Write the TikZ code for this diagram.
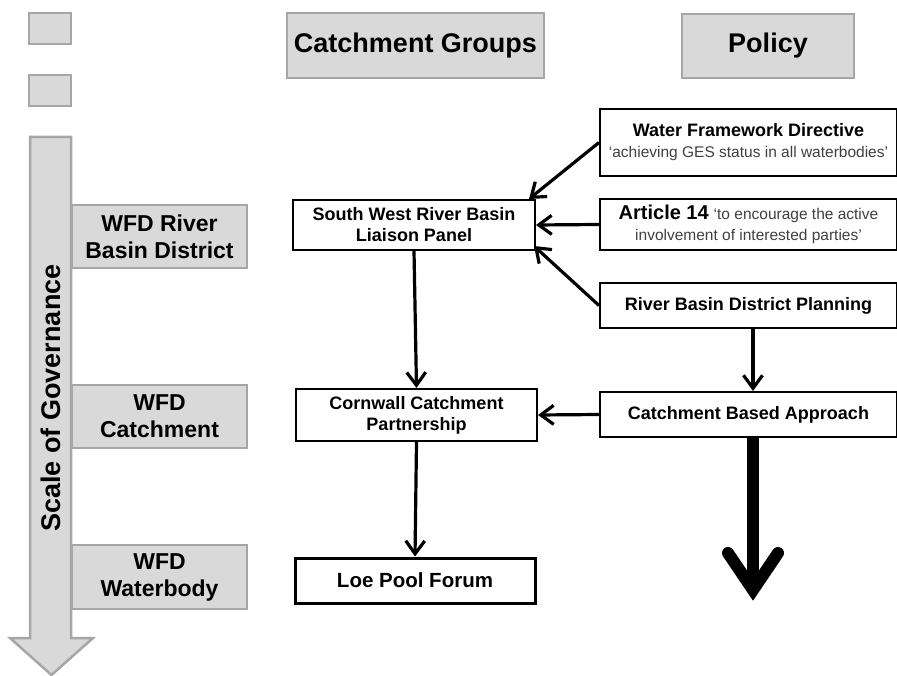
\documentclass[tikz,border=0pt]{standalone}
\usepackage{fontspec}
\setmainfont{Liberation Sans}
\usepackage{tikz}
\usetikzlibrary{arrows.meta, positioning}
\definecolor{panelgrey}{HTML}{D9D9D9}
\definecolor{edgegrey}{HTML}{A6A6A6}
\definecolor{quotegrey}{HTML}{404040}
\newcommand{\quotefont}{\fontsize{15.5}{18}\selectfont\mdseries\color{quotegrey}}

\begin{document}
\begin{tikzpicture}[x=1pt, y=-1pt,
    >={Straight Barb[length=13pt,width=19pt]},
    tierbox/.style={draw=edgegrey,line width=2.5pt,fill=panelgrey,inner sep=0pt,
        align=center,font=\bfseries\fontsize{23}{27}\selectfont},
    headbox/.style={tierbox,font=\bfseries\fontsize{27}{32}\selectfont},
    groupbox/.style={draw,line width=2pt,fill=white,inner sep=0pt,
        align=center,font=\bfseries\fontsize{18}{21}\selectfont},
    policybox/.style={groupbox,minimum width=297pt},
    link/.style={->,line width=3.2pt},
    bigflow/.style={line width=12pt}]

    \useasboundingbox (0,0) rectangle (897,676);

    \node[tierbox,minimum width=42pt,minimum height=31pt] (blank1) at (50,28.5) {};
    \node[tierbox,minimum width=42pt,minimum height=31pt] (blank2) at (50,90.5) {};
    \node[headbox,minimum width=257pt,minimum height=65pt] (groups) at (415.5,45.5) {Catchment Groups};
    \node[headbox,minimum width=172pt,minimum height=64pt] (policy) at (768,46) {Policy};

    % scale arrow
    \draw[draw=edgegrey,line width=2.5pt,fill=panelgrey]
        (30,137) -- (71,137) -- (71,638) -- (93,638) -- (51.5,675) -- (10,638) -- (30,638) -- cycle;
    \node[rotate=90,font=\bfseries\fontsize{27}{32}\selectfont] (scale) at (51,398) {Scale of Governance};

    \node[tierbox,minimum width=175pt,minimum height=63pt] (rbd)       at (159.5,236.5) {WFD River\\Basin District};
    \node[tierbox,minimum width=175pt,minimum height=63pt] (catch)     at (159.5,416.5) {WFD\\Catchment};
    \node[tierbox,minimum width=175pt,minimum height=64pt] (waterbody) at (159.5,577)   {WFD\\Waterbody};

    \node[groupbox,minimum width=242pt,minimum height=50pt] (swrb)     at (414,225)   {South West River Basin\\Liaison Panel};
    \node[groupbox,minimum width=241pt,minimum height=52pt] (cornwall) at (416.5,415) {Cornwall Catchment\\Partnership};
    \node[groupbox,line width=3pt,minimum width=240pt,minimum height=45pt,
        font=\bfseries\fontsize{20.5}{24}\selectfont] (loe) at (415,580.5) {Loe Pool Forum};

    \node[policybox,minimum height=67pt] (wfd)   at (748.5,142.5)
        {Water Framework Directive\\ \quotefont ‘achieving GES status in all waterbodies’};
    \node[policybox,minimum height=51pt] (art14) at (748.5,224.5)
        {{\fontsize{20}{24}\selectfont Article 14} \quotefont ‘to encourage the active\\ \quotefont involvement of interested parties’};
    \node[policybox,minimum height=45pt] (rbdp)  at (748.5,305.5) {River Basin District Planning};
    \node[policybox,minimum height=45pt] (cba)   at (748.5,414.5) {Catchment Based Approach};

    \path[link]
    (wfd.west)   edge ([xshift=-7pt]swrb.north east)
    (art14.west) edge (swrb.east)
    (rbdp.west)  edge ([xshift=-2pt,yshift=5pt]swrb.south east)
    (swrb.south) edge (cornwall.north)
    ([xshift=4.5pt]rbdp.south) edge ([xshift=4.5pt]cba.north)
    (cba.west)   edge (cornwall.east)
    (cornwall.south) edge (loe.north)
    ;

    \coordinate (flowtip)   at (753,590);
    \coordinate (flowleft)  at (728,553);
    \coordinate (flowright) at (778,553);
    \draw[bigflow] ([xshift=4.5pt]cba.south) -- (flowtip);
    \draw[bigflow,line cap=round,line join=miter] (flowleft) -- (flowtip) -- (flowright);
\end{tikzpicture}
\end{document}
